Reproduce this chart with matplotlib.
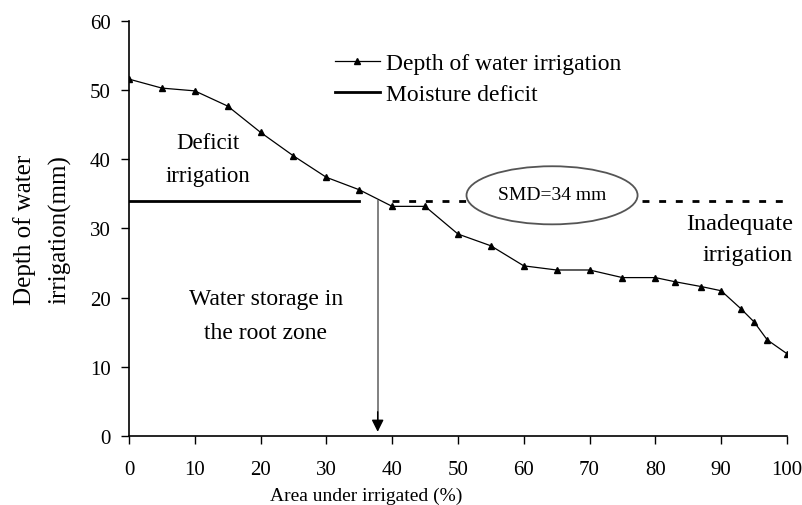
import numpy as np
import matplotlib
matplotlib.use("Agg")
import matplotlib.pyplot as plt
from matplotlib.patches import Ellipse
from matplotlib.lines import Line2D

# Data
area = [0, 5, 10, 15, 20, 25, 30, 35, 40, 45, 50, 55, 60, 65, 70, 75, 80,
        83, 87, 90, 93, 95, 97, 100]
depth = [51.6, 50.3, 49.9, 47.7, 43.9, 40.5, 37.4, 35.6, 33.2, 33.2, 29.2,
         27.5, 24.6, 24.0, 24.0, 22.9, 22.9, 22.3, 21.6, 21.0, 18.4, 16.5,
         13.9, 11.9]
smd = 34
smd_cross = 37.8
x_ticks = list(range(0, 101, 10))
y_ticks = list(range(0, 61, 10))

plt.rcParams['font.family'] = ['Liberation Serif', 'DejaVu Serif']

fig = plt.figure(figsize=(8.03, 5.06), dpi=100)
ax = fig.add_axes([0.1606, 0.1364, 0.8194, 0.8201])

ax.plot(area, depth, color='black', lw=0.9, marker='^', ms=5,
        markerfacecolor='black', markeredgecolor='black')

# moisture deficit: solid on the left, dashed on the right
ax.plot([0, 35], [smd, smd], color='black', lw=2)
ax.plot([40, 100], [smd, smd], color='black', lw=2, ls=(0, (2.5, 3.5)))

# gray arrow down to the x-axis with a black head
ax.plot([smd_cross, smd_cross], [smd, 2.5], color='#808080', lw=1.4)
ax.annotate('', xy=(smd_cross, 0.6), xytext=(smd_cross, 3.5),
            arrowprops=dict(arrowstyle='-|>', color='black', lw=1.0,
                            mutation_scale=18, shrinkA=0, shrinkB=0))

ell = Ellipse((64.3, 34.8), 26, 8.4, facecolor='white', edgecolor='#555555',
              lw=1.3, zorder=3)
ax.add_patch(ell)
ax.text(64.3, 34.9, 'SMD=34 mm', ha='center', va='center', fontsize=14,
        zorder=4)

ax.text(12, 40.1, 'Deficit\nirrigation', ha='center', va='center',
        fontsize=16.5, linespacing=1.75)
ax.text(20.8, 17.4, 'Water storage in\nthe root zone', ha='center',
        va='center', fontsize=17, linespacing=1.8)
ax.text(100.9, 28.5, 'Inadequate\nirrigation', ha='right', va='center',
        fontsize=17.5, linespacing=1.6, clip_on=False)

ax.set_xlim(0, 100)
ax.set_ylim(0, 60)
ax.set_xticks(x_ticks)
ax.set_yticks(y_ticks)
ax.tick_params(direction='out', length=6, width=1, labelsize=15)
ax.tick_params(axis='x', pad=11)
ax.tick_params(axis='y', pad=7)
for s in ['top', 'right']:
    ax.spines[s].set_visible(False)
for s in ['left', 'bottom']:
    ax.spines[s].set_linewidth(1.2)

ax.set_xlabel('Area under irrigated (%)', fontsize=14)
ax.xaxis.set_label_coords(0.36, -0.122)
ax.set_ylabel('Depth of water\nirrigation(mm)', fontsize=18, linespacing=1.7)
ax.yaxis.set_label_coords(-0.088, 0.5)

handles = [Line2D([], [], color='black', lw=0.9, marker='^', ms=5),
           Line2D([], [], color='black', lw=2)]
ax.legend(handles, ['Depth of water irrigation', 'Moisture deficit'],
          loc='upper left', bbox_to_anchor=(0.313, 0.923), frameon=False,
          fontsize=17, handlelength=1.9, handletextpad=0.25,
          labelspacing=0.38, borderpad=0, borderaxespad=0)

fig.savefig('out.png', dpi=100)
